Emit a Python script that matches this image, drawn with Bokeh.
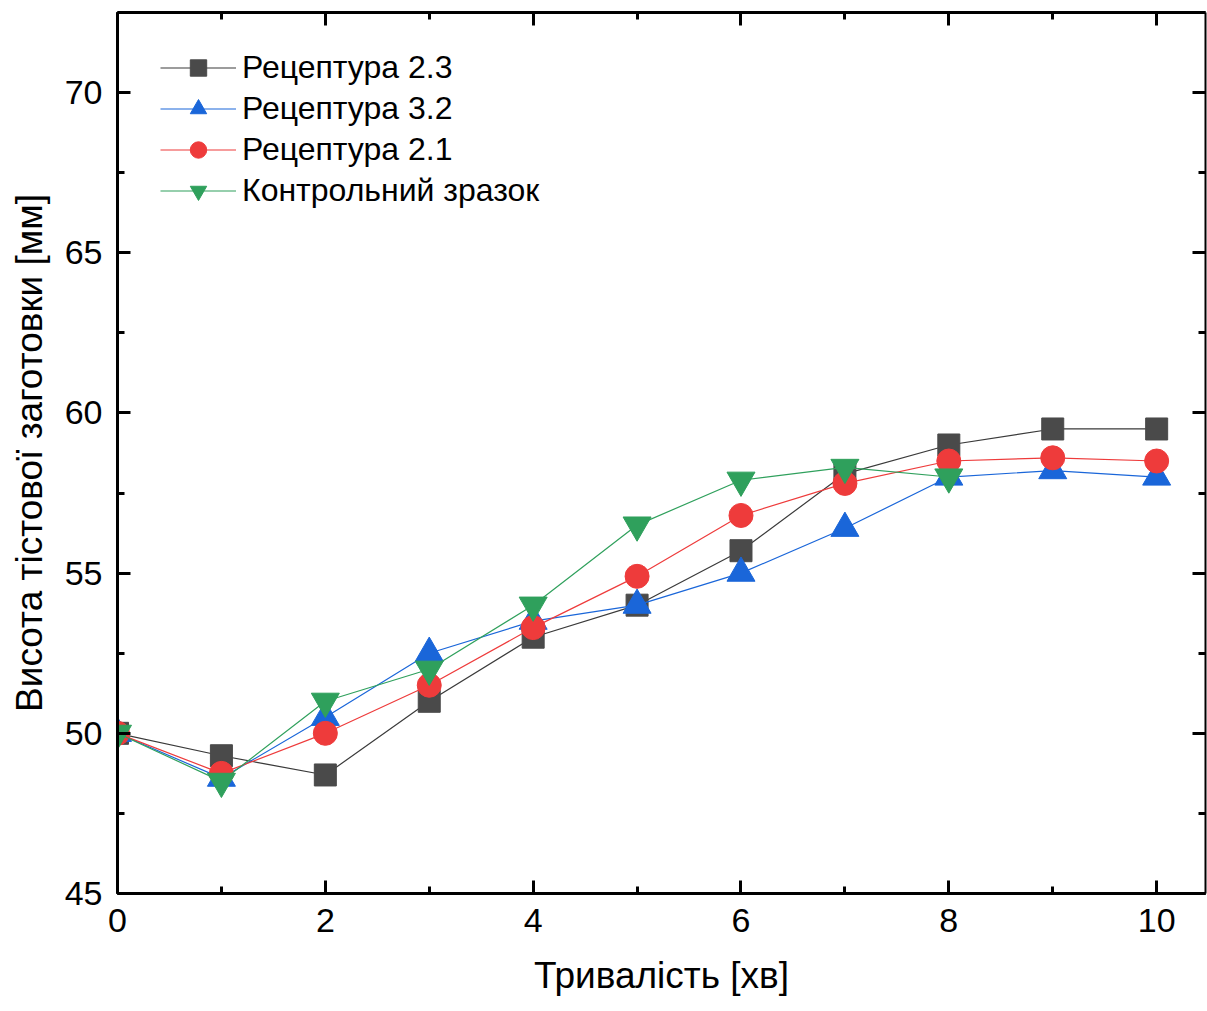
from bokeh.plotting import figure
from bokeh.models import (LinearAxis, SingleIntervalTicker, Range1d,
                          CustomJSTickFormatter)
from bokeh.embed import file_html
from bokeh.resources import INLINE

# ---- data ----
time_min = [0, 1, 2, 3, 4, 5, 6, 7, 8, 9, 10]
rec_2_3 = [50.0, 49.3, 48.7, 51.0, 53.0, 54.0, 55.7, 58.1, 59.0, 59.5, 59.5]
rec_3_2 = [50.0, 48.6, 50.5, 52.5, 53.5, 54.0, 55.0, 56.4, 58.0, 58.2, 58.0]
rec_2_1 = [50.0, 48.75, 50.0, 51.5, 53.3, 54.9, 56.8, 57.8, 58.5, 58.6, 58.5]
control_time = [0, 1, 2, 3, 4, 5, 6, 7, 8]
control = [50.0, 48.5, 51.0, 52.0, 54.0, 56.5, 57.9, 58.3, 58.0]

x_title = "Тривалість [хв]"
y_title = "Висота тістової заготовки [мм]"
labels = ["Рецептура 2.3", "Рецептура 3.2", "Рецептура 2.1", "Контрольний зразок"]

FONT = "Liberation Sans"

p = figure(width=1207, height=1011, output_backend="svg", toolbar_location=None,
           x_range=Range1d(0, 10.47), y_range=Range1d(45, 72.5),
           min_border_left=117, min_border_right=2, min_border_top=12,
           min_border_bottom=118, x_axis_label=x_title, y_axis_label=y_title)
p.grid.visible = False
p.outline_line_color = None
p.background_fill_color = "white"
p.border_fill_color = "white"

p.xaxis[0].ticker = SingleIntervalTicker(interval=2, num_minor_ticks=2)
p.yaxis[0].ticker = SingleIntervalTicker(interval=5, num_minor_ticks=2)

def style_axis(ax, lw=3):
    ax.axis_line_width = lw
    ax.axis_line_color = "black"
    ax.major_tick_in = 13
    ax.major_tick_out = 0
    ax.minor_tick_in = 7
    ax.minor_tick_out = 0
    ax.major_tick_line_width = 3
    ax.minor_tick_line_width = 3
    ax.major_tick_line_color = "black"
    ax.minor_tick_line_color = "black"
    ax.major_label_text_font = FONT
    ax.major_label_text_font_size = "34px"
    ax.major_label_text_color = "black"
    ax.axis_label_text_font = FONT
    ax.axis_label_text_font_size = "37px"
    ax.axis_label_text_font_style = "normal"
    ax.axis_label_text_color = "black"

style_axis(p.xaxis[0])
style_axis(p.yaxis[0])
p.xaxis[0].major_label_standoff = 15
p.xaxis[0].axis_label_standoff = 20
p.yaxis[0].major_label_standoff = 15
p.yaxis[0].axis_label_standoff = 12

blank = CustomJSTickFormatter(code="return ''")
top = LinearAxis(ticker=SingleIntervalTicker(interval=2, num_minor_ticks=2), formatter=blank)
right = LinearAxis(ticker=SingleIntervalTicker(interval=5, num_minor_ticks=2), formatter=blank)
style_axis(top, 3)
style_axis(right, 2)
for ax in (top, right):
    ax.major_label_standoff = 0
    ax.major_label_text_font_size = "0px"
p.add_layout(top, "above")
p.add_layout(right, "right")

# ---- series ----
C_GRAY = "#4a4a4a"
C_BLUE = "#1a66d9"
C_RED = "#ee3b3b"
C_GREEN = "#2fa05c"

p.line(time_min, rec_2_3, color="#3a3a3a", line_width=1.2, legend_label=labels[0])
p.scatter(time_min, rec_2_3, marker="square", size=22, color=C_GRAY, legend_label=labels[0])

p.line(time_min, rec_3_2, color=C_BLUE, line_width=1.2, legend_label=labels[1])
p.scatter(time_min, rec_3_2, marker="triangle", size=28, color=C_BLUE, legend_label=labels[1])

p.line(time_min, rec_2_1, color=C_RED, line_width=1.2, legend_label=labels[2])
p.scatter(time_min, rec_2_1, marker="circle", size=24, color=C_RED, legend_label=labels[2])

p.line(control_time, control, color=C_GREEN, line_width=1.2, legend_label=labels[3])
p.scatter(control_time, control, marker="inverted_triangle", size=28, color=C_GREEN,
          legend_label=labels[3])

lg = p.legend[0]
lg.location = (43, 682)
lg.margin = 0
lg.padding = 0
lg.spacing = 0
lg.border_line_color = None
lg.background_fill_alpha = 0
lg.glyph_width = 76
lg.glyph_height = 41
lg.label_height = 41
lg.label_standoff = 6
lg.label_text_font = FONT
lg.label_text_font_size = "32px"
lg.label_text_color = "black"

with open("out.html", "w") as f:
    f.write(file_html(p, INLINE))
